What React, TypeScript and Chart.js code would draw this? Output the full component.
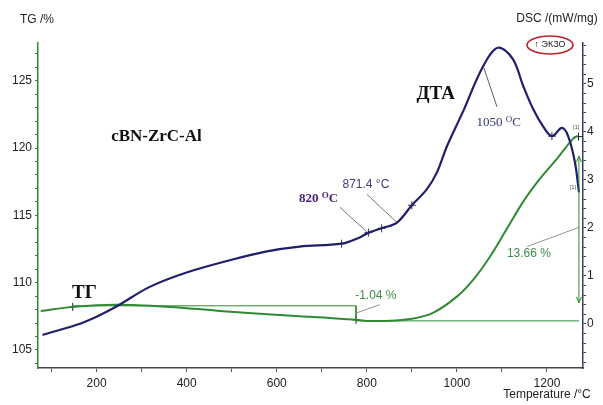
import React, { useEffect, useRef } from "react";
import { Chart, registerables } from "chart.js";

Chart.register(...registerables);

// ---- Data ----
const tempDTA = [80, 156, 200, 244, 318, 400, 502, 578, 651, 744, 784, 804, 833, 867, 900, 933, 956, 978, 1013, 1058, 1091, 1124, 1147, 1169, 1191, 1211, 1233, 1247, 1262, 1271];
const dscDTA = [-0.23, -0.02, 0.15, 0.36, 0.77, 1.07, 1.34, 1.51, 1.61, 1.67, 1.8, 1.9, 1.99, 2.11, 2.47, 2.8, 3.16, 3.7, 4.41, 5.36, 5.75, 5.52, 4.96, 4.48, 4.12, 3.91, 4.08, 3.91, 3.37, 2.74];

const tempTG = [76, 147, 244, 362, 473, 651, 711, 776, 800, 844, 896, 947, 1000, 1036, 1073, 1111, 1147, 1184, 1222, 1258, 1268];
const tgValues = [107.9, 108.2, 108.36, 108.2, 107.9, 107.5, 107.4, 107.24, 107.16, 107.16, 107.3, 107.76, 108.96, 110.2, 111.9, 114.0, 116.0, 117.7, 119.2, 120.7, 120.9];

// markers
const dtaMarkerT = [744, 804, 833, 900, 1211];
const dtaMarkerV = [1.67, 1.9, 1.99, 2.47, 3.91];
const tgMarkerT = [147, 776, 1270];
const tgMarkerV = [108.2, 107.24, 120.85];

// step lines for mass change
const stepUpperT = [147, 776, 776];
const stepUpperV = [108.28, 108.28, 107.2];
const stepLowerT = [776, 1271];
const stepLowerV = [107.16, 107.16];

// axis ranges and ticks
const xMin = 70, xMax = 1280;
const tgMin = 103.66, tgMax = 127.8;
const dscMin = -0.92, dscMax = 5.85;
const xLabels = [200, 400, 600, 800, 1000, 1200];
const tgLabels = [105, 110, 115, 120, 125];
const dscLabels = [0, 1, 2, 3, 4, 5];

const NAVY = "#1f1f6b";
const GREEN = "#2f8a33";
const LABEL_GREEN = "#3f8f48";

const pts = (xs: number[], ys: number[]) => xs.map((x, i) => ({ x, y: ys[i] }));

function drawArrowHead(ctx: CanvasRenderingContext2D, x: number, y: number, dir: number) {
  ctx.beginPath();
  ctx.moveTo(x - 2.5, y - dir * 6);
  ctx.lineTo(x, y);
  ctx.lineTo(x + 2.5, y - dir * 6);
  ctx.stroke();
}

const annotationPlugin = {
  id: "annots",
  afterDatasetsDraw(chart: any) {
    const ctx: CanvasRenderingContext2D = chart.ctx;
    const xs = chart.scales.x;
    const yd = chart.scales.yDSC;
    const yt = chart.scales.yTG;
    const X = (v: number) => xs.getPixelForValue(v);
    const D = (v: number) => yd.getPixelForValue(v);
    const G = (v: number) => yt.getPixelForValue(v);
    ctx.save();

    // leader lines
    const leader = (t1: number, v1: number, t2: number, v2: number, color: string) => {
      ctx.strokeStyle = color;
      ctx.lineWidth = 0.8;
      ctx.beginPath();
      ctx.moveTo(X(t1), D(v1));
      ctx.lineTo(X(t2), D(v2));
      ctx.stroke();
    };
    leader(1089, 4.52, 1060, 5.33, "#333");
    leader(800, 2.7, 867, 2.11, "#555");
    leader(740, 2.43, 802, 1.9, "#555");
    leader(778, 0.23, 829, 0.4, "#777");
    leader(1156, 1.61, 1271, 2.01, "#777");

    // vertical double arrow for 13.66 %
    const ax = X(1271);
    ctx.strokeStyle = GREEN;
    ctx.lineWidth = 1;
    ctx.beginPath();
    ctx.moveTo(ax, G(119.4));
    ctx.lineTo(ax, G(108.5));
    ctx.stroke();
    drawArrowHead(ctx, ax, G(119.4), -1);
    drawArrowHead(ctx, ax, G(108.5), 1);

    // texts
    const text = (s: string, t: number, v: number, font: string, color: string) => {
      ctx.font = font;
      ctx.fillStyle = color;
      ctx.textAlign = "center";
      ctx.textBaseline = "middle";
      ctx.fillText(s, X(t), D(v));
    };
    text("cBN-ZrC-Al", 333, 3.91, "bold 17px 'Liberation Serif'", "#111");
    text("ДТА", 953, 4.79, "bold 19px 'Liberation Serif'", "#111");
    text("TГ", 173, 0.65, "bold 19px 'Liberation Serif'", "#111");
    text("871.4 °C", 798, 2.89, "12px 'Liberation Sans'", "#3d3d7a");
    text("-1.04 %", 820, 0.59, "12px 'Liberation Sans'", LABEL_GREEN);
    text("13.66 %", 1160, 1.46, "12px 'Liberation Sans'", LABEL_GREEN);

    // degree with superscript O
    const degText = (num: string, t: number, v: number, font: string, small: string, color: string) => {
      ctx.fillStyle = color;
      ctx.textBaseline = "alphabetic";
      ctx.textAlign = "left";
      ctx.font = font;
      const w1 = ctx.measureText(num).width;
      ctx.font = small;
      const w2 = ctx.measureText("O").width;
      ctx.font = font;
      const w3 = ctx.measureText("C").width;
      const total = w1 + w2 + w3;
      const x0 = X(t) - total / 2;
      const yb = D(v) + 4.5;
      ctx.fillText(num, x0, yb);
      ctx.font = small;
      ctx.fillText("O", x0 + w1, yb - 4);
      ctx.font = font;
      ctx.fillText("C", x0 + w1 + w2, yb);
    };
    degText("1050 ", 1093, 4.21, "13px 'Liberation Serif'", "9px 'Liberation Serif'", "#34347a");
    degText("820 ", 693, 2.64, "bold 13px 'Liberation Serif'", "bold 9px 'Liberation Serif'", "#4a1f7a");

    // small [1] labels
    ctx.font = "6px 'Liberation Sans'";
    ctx.fillStyle = "#555";
    ctx.textAlign = "center";
    ctx.textBaseline = "middle";
    ctx.fillText("[1]", X(1278) - 6, D(4.0) - 4);
    ctx.fillText("[1]", X(1262) - 2, D(2.85));

    // axis titles
    ctx.font = "12px 'Liberation Sans'";
    ctx.fillStyle = "#222";
    ctx.textBaseline = "middle";
    ctx.textAlign = "center";
    ctx.fillText("TG /%", 37, 20);
    ctx.fillText("DSC /(mW/mg)", 557, 19);
    ctx.fillText("Temperature /°C", 547, 395);

    // exo ellipse
    ctx.strokeStyle = "#c0202a";
    ctx.lineWidth = 1.6;
    ctx.beginPath();
    ctx.ellipse(550, 45, 23, 9, 0, 0, Math.PI * 2);
    ctx.stroke();
    ctx.font = "9px 'Liberation Sans'";
    ctx.fillStyle = "#222";
    ctx.fillText("↑ ЭКЗО", 550, 45);

    ctx.restore();
  },
};

export default function App() {
  const ref = useRef<HTMLCanvasElement | null>(null);
  useEffect(() => {
    if (!ref.current) return;
    const chart = new Chart(ref.current, {
      type: "line",
      data: {
        datasets: [
          {
            label: "DTA",
            data: pts(tempDTA, dscDTA),
            yAxisID: "yDSC",
            borderColor: NAVY,
            borderWidth: 2.2,
            pointRadius: 0,
            tension: 0.35,
            fill: false,
          },
          {
            label: "TG",
            data: pts(tempTG, tgValues),
            yAxisID: "yTG",
            borderColor: GREEN,
            borderWidth: 2,
            pointRadius: 0,
            tension: 0.35,
            fill: false,
          },
          {
            label: "stepUpper",
            data: pts(stepUpperT, stepUpperV),
            yAxisID: "yTG",
            borderColor: GREEN,
            borderWidth: 1,
            pointRadius: 0,
            tension: 0,
          },
          {
            label: "stepLower",
            data: pts(stepLowerT, stepLowerV),
            yAxisID: "yTG",
            borderColor: GREEN,
            borderWidth: 1,
            pointRadius: 0,
            tension: 0,
          },
          {
            label: "dtaMarkers",
            data: pts(dtaMarkerT, dtaMarkerV),
            yAxisID: "yDSC",
            showLine: false,
            pointStyle: "cross",
            pointRadius: 4,
            pointBorderColor: "#333",
            pointBorderWidth: 1,
          },
          {
            label: "tgMarkers",
            data: pts(tgMarkerT, tgMarkerV),
            yAxisID: "yTG",
            showLine: false,
            pointStyle: "cross",
            pointRadius: 4,
            pointBorderColor: "#222",
            pointBorderWidth: 1,
          },
        ],
      },
      options: {
        animation: false,
        responsive: true,
        maintainAspectRatio: false,
        layout: { padding: { top: 43, left: 0, right: 0, bottom: 0 } },
        plugins: { legend: { display: false }, tooltip: { enabled: false } },
        scales: {
          x: {
            type: "linear",
            min: xMin,
            max: xMax,
            afterBuildTicks: (s: any) => {
              const t = [];
              for (let v = 100; v <= 1200; v += 100) t.push({ value: v });
              s.ticks = t;
            },
            afterFit: (s: any) => {
              s.height = 37;
            },
            grid: { drawOnChartArea: false, drawTicks: true, tickLength: 4, color: "#555" },
            border: { color: "#444", width: 1.5 },
            ticks: {
              color: "#222",
              font: { family: "'Liberation Sans'", size: 12 },
              padding: 4,
              maxRotation: 0,
              autoSkip: false,
              callback: (v: any) => (xLabels.includes(Number(v)) ? String(v) : ""),
            },
          },
          yTG: {
            type: "linear",
            position: "left",
            min: tgMin,
            max: tgMax,
            afterBuildTicks: (s: any) => {
              const t = [];
              for (let v = 104; v <= 127; v += 1) t.push({ value: v });
              s.ticks = t;
            },
            afterFit: (s: any) => {
              s.width = 38;
            },
            grid: { drawOnChartArea: false, drawTicks: true, tickLength: 3, color: "#2f7a33" },
            border: { color: GREEN, width: 1.5 },
            ticks: {
              color: "#222",
              font: { family: "'Liberation Sans'", size: 12 },
              padding: 3,
              autoSkip: false,
              callback: (v: any) => (tgLabels.includes(Number(v)) ? String(v) : ""),
            },
          },
          yDSC: {
            type: "linear",
            position: "right",
            min: dscMin,
            max: dscMax,
            afterBuildTicks: (s: any) => {
              const t = [];
              for (let i = -4; i <= 29; i++) t.push({ value: Math.round(i * 0.2 * 10) / 10 });
              s.ticks = t;
            },
            afterFit: (s: any) => {
              s.width = 20;
            },
            grid: { drawOnChartArea: false, drawTicks: true, tickLength: 3, color: "#3a3a66" },
            border: { color: "#3a3a66", width: 1.5 },
            ticks: {
              color: "#222",
              font: { family: "'Liberation Sans'", size: 12 },
              padding: 1,
              autoSkip: false,
              callback: (v: any) => (dscLabels.includes(Number(v)) ? String(v) : ""),
            },
          },
        },
      },
      plugins: [annotationPlugin],
    });
    return () => chart.destroy();
  }, []);

  return (
    <div style={{ position: "fixed", left: 0, top: 0, width: 603, height: 405, background: "#fff" }}>
      <canvas ref={ref} />
    </div>
  );
}
